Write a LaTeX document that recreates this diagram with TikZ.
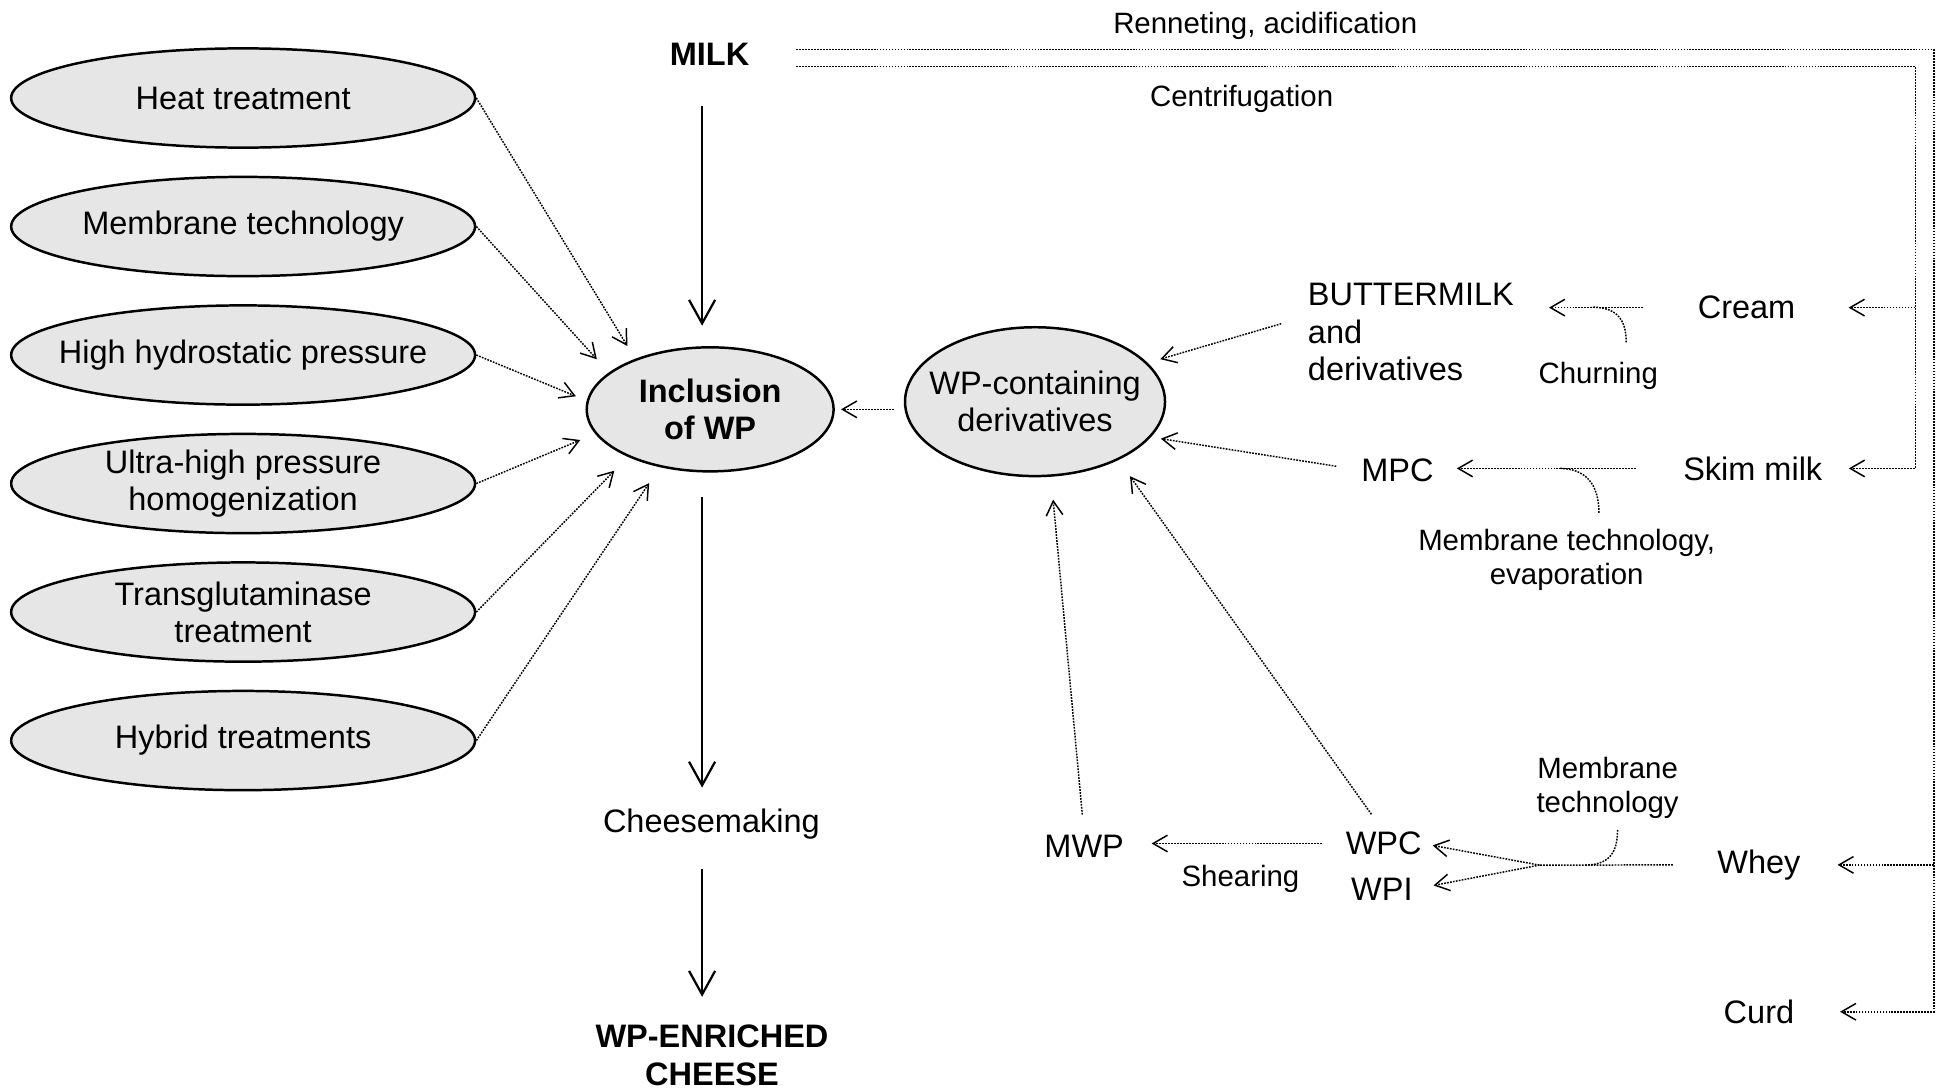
\documentclass[tikz,border=0pt]{standalone}
\usepackage{fontspec}
\setmainfont{Liberation Sans}
\usetikzlibrary{shapes.geometric,arrows.meta}
\definecolor{procgray}{HTML}{E6E6E6}
\newcommand{\mainsize}{\fontsize{13.1}{15}\selectfont}
\newcommand{\notesize}{\fontsize{11.85}{13.8}\selectfont}

\begin{document}
\begin{tikzpicture}[x=0.5pt, y=-0.5pt]
  \tikzset{TreatStyle/.style={shape=ellipse, draw, line width=1pt, fill=procgray,
      minimum width=187pt, minimum height=40pt, inner sep=0pt}}
  \tikzset{InnerText/.style={inner sep=0pt, font=\mainsize, align=center}}
  \tikzset{TextStyle/.style={inner sep=0pt, font=\mainsize, anchor=base}}
  \tikzset{NoteStyle/.style={inner sep=0pt, font=\notesize, align=center}}
  \tikzset{MainEdge/.style={-{Straight Barb[length=9.5pt, width=10.5pt]}, line width=0.9pt}}
  \tikzset{FlowEdge/.style={-{Straight Barb[length=5.8pt, width=6.7pt]}, line width=0.6pt,
      dash pattern=on 0.7pt off 0.5pt}}

  \useasboundingbox (0,0) rectangle (1568,879);

  \node[TreatStyle, label={[InnerText]center:Heat treatment}] (heat) at (196,79) {};
  \node[TreatStyle, label={[InnerText]center:Membrane technology}] (memb) at (196,182.6) {};
  \node[TreatStyle, label={[InnerText]center:High hydrostatic pressure}] (hhp) at (196,286.2) {};
  \node[TreatStyle, label={[InnerText]center:{Ultra-high pressure\\homogenization}}] (uhph) at (196,389.8) {};
  \node[TreatStyle, label={[InnerText]center:{Transglutaminase\\treatment}}] (tg) at (196,493.4) {};
  \node[TreatStyle, label={[InnerText]center:Hybrid treatments}] (hyb) at (196,597) {};

  \node[TreatStyle, minimum width=99.5pt, minimum height=50pt,
    label={[InnerText, font=\mainsize\bfseries]center:{Inclusion\\of WP}}] (incl) at (572.5,330) {};
  \node[TreatStyle, minimum width=104.8pt, minimum height=60pt,
    label={[InnerText]center:{WP-containing\\derivatives}}] (deriv) at (834.4,323.8) {};

  \node[TextStyle, font=\mainsize\bfseries] (milk) at (572,53) {MILK};
  \node[TextStyle] (cheese) at (573.5,671.3) {Cheesemaking};
  \node[InnerText, font=\mainsize\bfseries, anchor=north] (enriched) at (574,826) {WP-ENRICHED\\CHEESE};

  \node[NoteStyle, anchor=base] (renlab) at (1020,27) {Renneting, acidification};
  \node[NoteStyle, anchor=base] (cenlab) at (1001,86) {Centrifugation};
  \node[InnerText, align=left, anchor=north west] (butter) at (1054,228.2) {BUTTERMILK\\and\\derivatives};
  \node[TextStyle] (cream) at (1408,257) {Cream};
  \node[NoteStyle, anchor=base] (churn) at (1288.5,309) {Churning};
  \node[TextStyle] (mpc) at (1126.5,388) {MPC};
  \node[TextStyle] (skim) at (1413,387) {Skim milk};
  \node[NoteStyle, anchor=north] (memev) at (1263,426) {Membrane technology,\\evaporation};
  \node[TextStyle] (mwp) at (874,691) {MWP};
  \node[TextStyle] (wpc) at (1115.5,689) {WPC};
  \node[TextStyle] (wpi) at (1114,726) {WPI};
  \node[NoteStyle, anchor=base] (shear) at (1000,715) {Shearing};
  \node[NoteStyle, anchor=north] (memwh) at (1296,610) {Membrane\\technology};
  \node[TextStyle] (whey) at (1418,704) {Whey};
  \node[TextStyle] (curd) at (1418,825) {Curd};

  \coordinate (axis) at ([xshift=-3pt]milk.south);
  \coordinate (ren0) at (642,39.8);
  \coordinate (cen0) at (642,53.7);
  \coordinate (renbus) at (1559,0);
  \coordinate (cenbus) at (1544,0);
  \coordinate (split) at (1241,697.4);

  \draw[MainEdge, shorten <=16pt, shorten >=8.2pt] (axis) -- (axis |- incl.north);
  \draw[MainEdge, shorten <=10pt, shorten >=8.5pt] (axis |- incl.south) -- (axis |- cheese.north);
  \draw[MainEdge, shorten <=11.6pt, shorten >=11.2pt] (axis |- cheese.south) -- (axis |- enriched.north);

  \draw[FlowEdge, shorten >=6pt] (heat.east) -- (incl.146);
  \draw[FlowEdge, shorten >=7.2pt] (memb.east) -- (incl.160);
  \draw[FlowEdge, shorten >=4.7pt] (hhp.east) -- (incl.176);
  \draw[FlowEdge, shorten >=6.5pt] (uhph.east) -- (incl.192);
  \draw[FlowEdge, shorten >=7.8pt] (tg.east) -- (incl.210);
  \draw[FlowEdge, shorten >=7.7pt] (hyb.east) -- (incl.229);
  \draw[FlowEdge, shorten <=4pt, shorten >=2.5pt] (deriv.west |- incl.east) -- (incl.east);

  \draw[FlowEdge, shorten >=18.3pt] (ren0) -- (ren0 -| renbus) |- (curd.east);
  \draw[FlowEdge, shorten >=14.75pt] (whey.east -| renbus) -- (whey.east);
  \draw[FlowEdge, shorten >=10.5pt] (cen0) -- (cen0 -| cenbus) |- (skim.east);
  \draw[FlowEdge, shorten >=21.3pt] (cream.east -| cenbus) -- (cream.east);

  \draw[FlowEdge, shorten <=22pt, shorten >=14pt] (cream.west) -- (cream.west -| butter.east);
  \draw[FlowEdge, -] (1311,276) .. controls (1311,256) and (1302,247.6) .. (1283,247.6);
  \draw[FlowEdge, shorten <=19pt, shorten >=9.2pt] (skim.west) -- (skim.west -| mpc.east);
  \draw[FlowEdge, -] (1289,413.5) .. controls (1289,390) and (1278,377.6) .. (1257,377.6);

  \draw[FlowEdge, shorten <=11pt, shorten >=5.3pt] ([yshift=6.5pt]butter.west) -- (deriv.19);
  \draw[FlowEdge, shorten <=10pt, shorten >=4pt] (mpc.west) -- (deriv.343);
  \draw[FlowEdge, shorten <=8.5pt, shorten >=8pt] (wpc.north) -- (deriv.325);
  \draw[FlowEdge, shorten <=8pt, shorten >=9.25pt] (mwp.north) -- (deriv.282);
  \draw[FlowEdge, shorten <=9.5pt, shorten >=11pt] (wpc.west) -- (wpc.west -| mwp.east);

  \draw[FlowEdge, -, shorten <=17.75pt] (whey.west) -- (split);
  \draw[FlowEdge, shorten >=4.3pt] (split) -- (wpc.east);
  \draw[FlowEdge, shorten >=8.4pt] (split) -- (wpi.east);
  \draw[FlowEdge, -] (1304,669) .. controls (1304,689) and (1296,697.4) .. (1277,697.4);
\end{tikzpicture}
\end{document}
